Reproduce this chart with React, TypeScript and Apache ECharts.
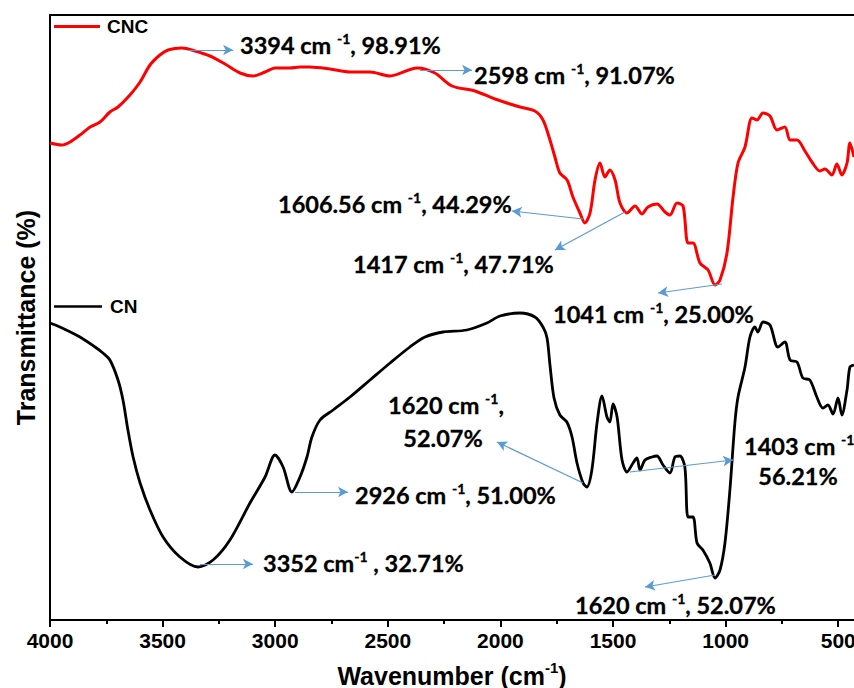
import React, { useEffect, useRef } from "react";
import * as echarts from "echarts";

// CNC spectrum (wavenumber in cm-1, transmittance in arbitrary units)
const cncWave = [4000,3947,3911,3867,3822,3778,3734,3698,3645,3600,3556,3512,3476,3414,3356,3290,3223,3156,3099,3045,3001,2934,2890,2846,2757,2668,2579,2490,2370,2291,2215,2113,2024,1913,1847,1811,1780,1758,1736,1704,1678,1647,1625,1602,1580,1558,1536,1514,1491,1469,1438,1402,1372,1345,1305,1269,1247,1216,1189,1167,1145,1114,1078,1047,1025,994,967,945,914,883,861,834,803,772,737,714,683,648,617,581,559,528,506,484,461,448,430];
const cncT = [477,475,478,485,493,498,508,513,525,538,555,565,570,572,569,564,556,547,544,548,552,552,553,553,551,548,548,544,552,547,534,529,521,513,509,500,480,463,447,440,423,407,397,407,440,457,443,450,440,417,407,414,406,413,416,408,405,417,414,377,377,357,350,335,340,367,423,457,473,502,500,507,504,490,493,480,480,469,458,449,451,445,456,445,457,477,463];

// CN spectrum
const cnWave = [4000,3956,3867,3800,3765,3734,3698,3676,3654,3631,3600,3556,3498,3423,3343,3276,3201,3112,3045,3001,2965,2926,2890,2859,2837,2801,2743,2668,2579,2490,2402,2335,2255,2149,2060,2002,1913,1847,1811,1793,1780,1762,1736,1705,1682,1660,1633,1616,1594,1571,1549,1527,1514,1500,1482,1460,1438,1411,1394,1380,1358,1327,1305,1278,1247,1225,1203,1181,1167,1145,1127,1101,1070,1047,1025,1003,981,959,945,914,892,870,857,834,803,768,737,714,683,657,626,595,568,546,523,501,484,461,448,430];
const cnT = [297,293,283,273,267,260,240,220,190,163,137,110,83,63,53,60,80,117,143,165,153,128,143,163,183,200,210,223,240,257,273,283,288,290,297,304,307,303,293,282,255,222,205,198,183,157,137,133,150,197,224,203,198,216,203,160,148,157,162,150,160,163,164,155,147,163,164,153,103,103,77,70,57,42,50,77,130,197,223,253,283,293,288,298,295,273,278,260,258,242,240,223,212,215,206,222,205,230,253,255];

const majorTicks = [4000, 3500, 3000, 2500, 2000, 1500, 1000, 500];
const minorTicks = [3750, 3250, 2750, 2250, 1750, 1250, 750];

// Annotation arrows: [from wavenumber, from T, to wavenumber, to T]
const cncArrows = [
  [3387, 570, 3187, 570],
  [2357, 550, 2126, 550],
  [1633, 401, 1949, 409],
  [1447, 408, 1758, 370],
  [1016, 336, 1300, 327],
];
const cnArrows = [
  [3334, 56, 3099, 56],
  [2912, 128, 2677, 128],
  [1633, 137, 2015, 178],
  [1425, 148, 967, 160],
  [1047, 45, 1358, 33],
];

// Annotation texts: [before superscript, superscript, after]
const labelTexts = [
  ["3394 cm ", "-1", ", 98.91%"],
  ["2598 cm ", "-1", ", 91.07%"],
  ["1606.56 cm ", "-1", ", 44.29%"],
  ["1417 cm ", "-1", ", 47.71%"],
  ["1041 cm ", "-1", ", 25.00%"],
  ["3352 cm", "-1", " , 32.71%"],
  ["2926 cm ", "-1", ", 51.00%"],
  ["1620 cm ", "-1", ","],
  ["1403 cm ", "-1", ","],
  ["1620 cm ", "-1", ", 52.07%"],
];
const secondLines = ["52.07%", "56.21%"];

const zip = (xs: number[], ys: number[]) => xs.map((x, i) => [x, ys[i]]);

const FS = 23.5;
const rich = {
  b: { fontFamily: "Lato", fontWeight: "bold", fontSize: FS, lineHeight: 26, verticalAlign: "bottom", fill: "#000" },
  s: { fontFamily: "Lato", fontWeight: "bold", fontSize: 14, lineHeight: 19, verticalAlign: "top", fill: "#000" },
};

const richText = (t: string[]) => `{b|${t[0]}}{s|${t[1]}}{b|${t[2]}}`;

function label(i: number, x: number, y: number, align = "left") {
  return {
    type: "text",
    x,
    y,
    silent: true,
    style: {
      text: richText(labelTexts[i]),
      rich,
      align,
      verticalAlign: "middle",
      fill: "#000",
      stroke: "#000",
      lineWidth: 0.3,
    },
  };
}
function plain(text: string, x: number, y: number, align = "left") {
  return {
    type: "text",
    x,
    y,
    silent: true,
    style: {
      text,
      align,
      verticalAlign: "middle",
      fill: "#000",
      stroke: "#000",
      lineWidth: 0.3,
      fontFamily: "Lato",
      fontWeight: "bold",
      fontSize: FS,
    },
  };
}

const arrowData = (arr: number[][]) =>
  arr.map((a) => [{ coord: [a[0], a[1]] }, { coord: [a[2], a[3]] }]);

const markLineBase = {
  silent: true,
  symbol: ["none", "arrow"],
  symbolSize: [8, 10],
  label: { show: false },
  lineStyle: { color: "#5B9BD5", width: 1.2, type: "solid" },
  emphasis: { disabled: true },
};

export default function App() {
  const ref = useRef<HTMLDivElement>(null);
  useEffect(() => {
    if (!ref.current) return;
    const chart = echarts.init(ref.current, null, { renderer: "svg" });
    const axisFont = { fontFamily: "Liberation Sans, Arial", fontWeight: "bold", color: "#000" };
    chart.setOption({
      animation: false,
      backgroundColor: "#fff",
      grid: { left: 50, right: 0, top: 15, bottom: 68, containLabel: false, outerBoundsMode: "none" },
      legend: [
        {
          data: ["CNC"],
          left: 54,
          top: 17,
          padding: 0,
          icon: "rect",
          itemWidth: 46,
          itemHeight: 3,
          selectedMode: false,
          textStyle: { ...axisFont, fontSize: 19, padding: [0, 0, 0, 2] },
        },
        {
          data: ["CN"],
          left: 54,
          top: 297,
          padding: 0,
          icon: "rect",
          itemWidth: 48,
          itemHeight: 2.5,
          selectedMode: false,
          textStyle: { ...axisFont, fontSize: 19, padding: [0, 0, 0, 3] },
        },
      ],
      xAxis: [
        {
          type: "value",
          position: "bottom",
          min: 430,
          max: 4000,
          inverse: true,
          name: "{t|Wavenumber (cm}{s|-1}{t|)}",
          nameLocation: "middle",
          nameGap: 40,
          nameTextStyle: {
            rich: {
              t: { ...axisFont, fontSize: 25, lineHeight: 28, verticalAlign: "bottom" },
              s: { ...axisFont, fontSize: 15, lineHeight: 20, verticalAlign: "top" },
            },
          },
          axisLine: { lineStyle: { color: "#000", width: 2 } },
          axisTick: { customValues: majorTicks, length: 7, lineStyle: { color: "#000", width: 2 } },
          axisLabel: {
            customValues: majorTicks,
            formatter: (v: number) => String(v),
            ...axisFont,
            fontSize: 21,
            margin: 10,
          },
          splitLine: { show: false },
        },
        {
          type: "value",
          position: "bottom",
          min: 430,
          max: 4000,
          inverse: true,
          axisLine: { show: false },
          axisTick: { customValues: minorTicks, length: 4, lineStyle: { color: "#000", width: 2 } },
          axisLabel: { show: false },
          splitLine: { show: false },
        },
        {
          type: "value",
          position: "top",
          min: 430,
          max: 4000,
          inverse: true,
          axisLine: { lineStyle: { color: "#000", width: 2 } },
          axisTick: { show: false },
          axisLabel: { show: false },
          splitLine: { show: false },
        },
      ],
      yAxis: {
        type: "value",
        min: 0,
        max: 605,
        name: "Transmittance (%)",
        nameLocation: "middle",
        nameGap: 12,
        nameTextStyle: { ...axisFont, fontSize: 25 },
        axisLine: { show: true, lineStyle: { color: "#000", width: 2 } },
        axisTick: { show: false },
        axisLabel: { show: false },
        splitLine: { show: false },
      },
      series: [
        {
          name: "CNC",
          type: "line",
          xAxisIndex: 0,
          data: zip(cncWave, cncT),
          symbol: "none",
          smooth: 0.3,
          lineStyle: { color: "#FF0000", width: 3 },
          itemStyle: { color: "#FF0000" },
          markLine: { ...markLineBase, data: arrowData(cncArrows) },
        },
        {
          name: "CN",
          type: "line",
          xAxisIndex: 0,
          data: zip(cnWave, cnT),
          symbol: "none",
          smooth: 0.3,
          lineStyle: { color: "#000", width: 2.8 },
          itemStyle: { color: "#000" },
          markLine: { ...markLineBase, data: arrowData(cnArrows) },
        },
      ],
      graphic: [
        label(0, 240, 44),
        label(1, 474, 74),
        label(2, 278, 203),
        label(3, 353, 263),
        label(4, 553, 313),
        label(5, 263, 562),
        label(6, 355, 494),
        label(7, 446, 404, "center"),
        plain(secondLines[0], 443, 438, "center"),
        label(8, 802, 445, "center"),
        plain(secondLines[1], 798, 476, "center"),
        label(9, 575, 604),
      ],
    });
    return () => chart.dispose();
  }, []);
  return (
    <div
      ref={ref}
      style={{ position: "fixed", left: 0, top: 0, width: 854, height: 688, background: "#fff" }}
    />
  );
}
